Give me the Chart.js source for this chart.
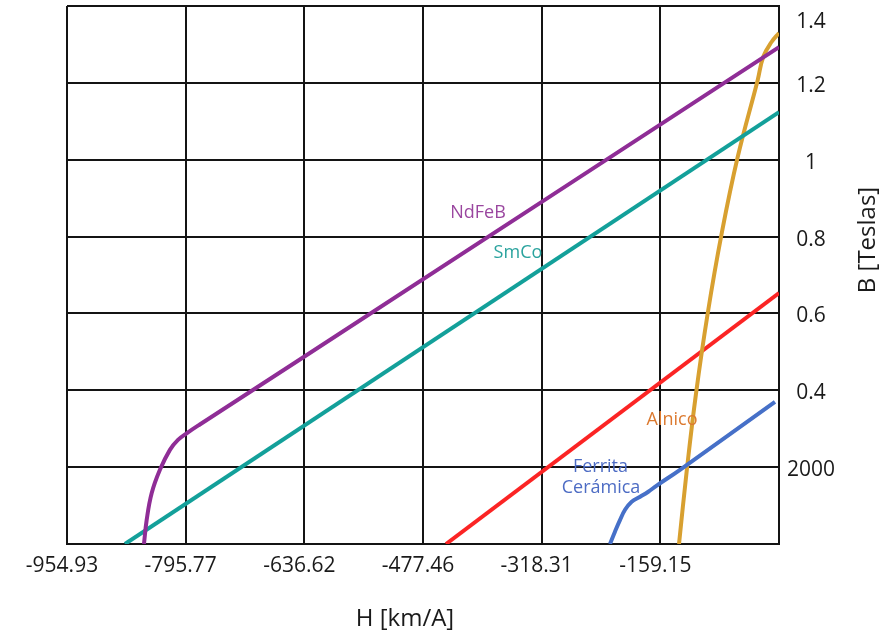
<!DOCTYPE html>
<html>
<head>
<meta charset="utf-8">
<script src="https://cdn.jsdelivr.net/npm/chart.js@4.4.1/dist/chart.umd.min.js"></script>
<style>
  html, body { margin: 0; padding: 0; background: #ffffff; }
  #wrap { width: 884px; height: 636px; }
</style>
</head>
<body>
<div id="wrap"><canvas id="curvas" width="884" height="636"></canvas></div>
<script>
// Axis ticks
const xTickValues = [-954.93, -795.77, -636.62, -477.46, -318.31, -159.15, 0];
const xTickLabels = ['-954.93', '-795.77', '-636.62', '-477.46', '-318.31', '-159.15', ''];
const yTickValues = [0, 0.2, 0.4, 0.6, 0.8, 1.0, 1.2, 1.4];
const yTickLabels = ['', '2000', '0.4', '0.6', '0.8', '1', '1.2', '1.4'];

// Demagnetisation curves: H in kA/m, B in teslas
const ndfebH = [-851.7, -848.1, -841.4, -830.3, -816.9, -806.1, -794.5, -776.8, -642.6, 0];
const ndfebB = [0, 0.062, 0.132, 0.193, 0.245, 0.271, 0.288, 0.311, 0.480, 1.293];

const smcoH = [-877.2, 0];
const smcoB = [0, 1.124];

const ferritaH = [-226.7, -220.0, -213.3, -206.5, -197.6, -186.2, -175.3, -164.0, -132.8, -5.4];
const ferritaB = [0, 0.032, 0.062, 0.089, 0.110, 0.123, 0.136, 0.152, 0.193, 0.370];

const alnicoH = [-134.1, -123.6, -111.4, -95.8, -76.8, -55.4, -28.6, -21.1, -9.8, 0];
const alnicoB = [0, 0.193, 0.390, 0.598, 0.809, 1.007, 1.207, 1.268, 1.307, 1.330];

const rectaH = [-446.6, 0];
const rectaB = [0, 0.653];

const toPoints = (hs, bs) => hs.map((h, i) => ({ x: h, y: bs[i] }));

// In-plot curve names, placed in data coordinates
const curveNotes = [
  { text: 'NdFeB', h: -403.7, b: 0.861, color: '#9a469f' },
  { text: 'SmCo', h: -350.1, b: 0.757, color: '#2aa39e' },
  { text: 'Alnico', h: -143.5, b: 0.323, color: '#dc7a30' },
  { text: 'Ferrita', h: -239.4, b: 0.200, color: '#4d6cc4' },
  { text: 'Cerámica', h: -238.7, b: 0.146, color: '#4d6cc4' }
];

const notesPlugin = {
  id: 'curveNotes',
  afterDatasetsDraw(chart) {
    const { ctx, scales: { x, y } } = chart;
    ctx.save();
    ctx.font = '18px "Open Sans"';
    ctx.textAlign = 'center';
    ctx.textBaseline = 'middle';
    for (const n of curveNotes) {
      ctx.fillStyle = n.color;
      ctx.fillText(n.text, x.getPixelForValue(n.h), y.getPixelForValue(n.b));
    }
    ctx.restore();
  },
  afterDraw(chart) {
    const { ctx } = chart;
    ctx.save();
    ctx.fillStyle = '#1a1a1a';
    ctx.font = '24px "Open Sans"';
    ctx.textAlign = 'center';
    ctx.textBaseline = 'middle';
    ctx.fillText('H [km/A]', 405, 619);
    ctx.translate(868, 240);
    ctx.rotate(-Math.PI / 2);
    ctx.fillText('B [Teslas]', 0, 0);
    ctx.restore();
  }
};

const lineStyle = { pointRadius: 0, borderWidth: 4, fill: false };

new Chart(document.getElementById('curvas'), {
  type: 'line',
  data: {
    datasets: [
      { label: 'NdFeB', data: toPoints(ndfebH, ndfebB), borderColor: '#8f2d96', tension: 0.4, ...lineStyle },
      { label: 'SmCo', data: toPoints(smcoH, smcoB), borderColor: '#13a09a', tension: 0, ...lineStyle },
      { label: 'Ferrita Cerámica', data: toPoints(ferritaH, ferritaB), borderColor: '#4670c8', tension: 0.4, ...lineStyle },
      { label: 'Alnico', data: toPoints(alnicoH, alnicoB), borderColor: '#d8a030', tension: 0.4, ...lineStyle },
      { label: 'Recta', data: toPoints(rectaH, rectaB), borderColor: '#fb2424', tension: 0, ...lineStyle }
    ]
  },
  options: {
    responsive: false,
    animation: false,
    devicePixelRatio: 1,
    layout: { padding: { left: 67, top: 6, right: 0, bottom: 0 } },
    plugins: { legend: { display: false }, tooltip: { enabled: false } },
    scales: {
      x: {
        type: 'linear',
        min: -954.93,
        max: 0,
        afterBuildTicks: s => { s.ticks = xTickValues.map(v => ({ value: v })); },
        afterFit: s => { s.height = 92; s.paddingLeft = 0; s.paddingRight = 0; },
        ticks: {
          callback: (v, i) => xTickLabels[i],
          font: { family: '"Open Sans"', size: 21 },
          color: '#1a1a1a',
          padding: 9,
          labelOffset: -5,
          maxRotation: 0,
          autoSkip: false
        },
        grid: { color: '#141414', lineWidth: 2, drawTicks: false },
        border: { color: '#141414', width: 2 }
      },
      y: {
        type: 'linear',
        position: 'right',
        min: 0,
        max: 1.4,
        afterBuildTicks: s => { s.ticks = yTickValues.map(v => ({ value: v })); },
        afterFit: s => { s.width = 105; s.paddingTop = 0; s.paddingBottom = 0; },
        ticks: {
          // the top label sits one half line below its grid line
          callback: (v, i) => (i === yTickLabels.length - 1 ? ['', yTickLabels[i]] : yTickLabels[i]),
          font: { family: '"Open Sans"', size: 21 },
          color: '#1a1a1a',
          padding: 8,
          crossAlign: 'center',
          labelOffset: 3,
          autoSkip: false
        },
        grid: { color: '#141414', lineWidth: 2, drawTicks: false },
        border: { color: '#141414', width: 2 }
      }
    }
  },
  plugins: [notesPlugin]
});
</script>
</body>
</html>
